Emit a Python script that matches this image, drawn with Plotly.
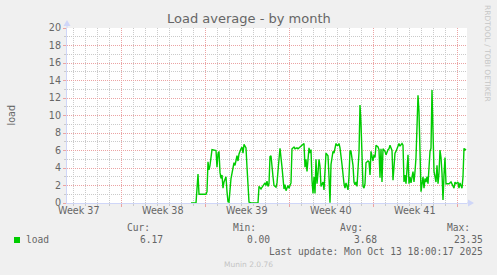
import plotly.graph_objects as go

# ---------------- data ----------------
times = [
    "2025-09-20 20:00", "2025-09-21 06:00", "2025-09-21 10:00", "2025-09-21 12:00",
    "2025-09-22 02:00", "2025-09-22 04:00", "2025-09-22 06:00", "2025-09-22 08:00",
    "2025-09-22 10:00", "2025-09-22 14:00", "2025-09-22 22:00",
    "2025-09-23 00:00", "2025-09-23 02:00", "2025-09-23 04:00", "2025-09-23 06:00",
    "2025-09-23 08:00", "2025-09-23 10:00", "2025-09-23 12:00", "2025-09-23 14:00",
    "2025-09-23 18:00", "2025-09-23 20:00", "2025-09-23 22:00",
    "2025-09-24 00:00", "2025-09-24 02:00", "2025-09-24 04:00", "2025-09-24 08:00",
    "2025-09-24 10:00", "2025-09-24 12:00", "2025-09-24 14:00", "2025-09-24 16:00",
    "2025-09-24 18:00", "2025-09-24 20:00",
    "2025-09-25 00:00", "2025-09-25 02:00", "2025-09-25 04:00", "2025-09-25 06:00",
    "2025-09-25 08:00", "2025-09-25 10:00", "2025-09-25 12:00", "2025-09-25 14:00",
    "2025-09-25 16:00", "2025-09-25 20:00",
    "2025-09-26 00:00", "2025-09-26 10:00", "2025-09-26 12:00", "2025-09-26 16:00",
    "2025-09-26 18:00", "2025-09-26 20:00",
    "2025-09-27 00:00", "2025-09-27 02:00", "2025-09-27 04:00", "2025-09-27 06:00",
    "2025-09-27 08:00", "2025-09-27 10:00", "2025-09-27 12:00", "2025-09-27 16:00",
    "2025-09-27 18:00", "2025-09-27 22:00",
    "2025-09-28 00:00", "2025-09-28 04:00", "2025-09-28 06:00", "2025-09-28 10:00",
    "2025-09-28 12:00", "2025-09-28 14:00", "2025-09-28 16:00", "2025-09-28 18:00",
    "2025-09-28 22:00",
    "2025-09-29 00:00", "2025-09-29 02:00", "2025-09-29 04:00", "2025-09-29 06:00",
    "2025-09-29 10:00", "2025-09-29 12:00", "2025-09-29 16:00", "2025-09-29 18:00",
    "2025-09-29 20:00",
    "2025-09-30 00:00", "2025-09-30 04:00", "2025-09-30 06:00", "2025-09-30 08:00",
    "2025-09-30 10:00", "2025-09-30 12:00", "2025-09-30 14:00", "2025-09-30 16:00",
    "2025-09-30 18:00", "2025-09-30 20:00", "2025-09-30 22:00",
    "2025-10-01 00:00", "2025-10-01 02:00", "2025-10-01 04:00", "2025-10-01 06:00",
    "2025-10-01 08:00", "2025-10-01 10:00", "2025-10-01 12:00", "2025-10-01 14:00",
    "2025-10-01 16:00", "2025-10-01 20:00", "2025-10-01 22:00",
    "2025-10-02 02:00", "2025-10-02 04:00", "2025-10-02 06:00", "2025-10-02 08:00",
    "2025-10-02 10:00", "2025-10-02 12:00", "2025-10-02 16:00", "2025-10-02 18:00",
    "2025-10-02 20:00", "2025-10-02 22:00",
    "2025-10-03 00:00", "2025-10-03 02:00", "2025-10-03 04:00", "2025-10-03 06:00",
    "2025-10-03 10:00", "2025-10-03 12:00", "2025-10-03 14:00", "2025-10-03 16:00",
    "2025-10-03 18:00", "2025-10-03 22:00",
    "2025-10-04 00:00", "2025-10-04 02:00", "2025-10-04 04:00", "2025-10-04 08:00",
    "2025-10-04 10:00", "2025-10-04 12:00", "2025-10-04 14:00", "2025-10-04 16:00",
    "2025-10-04 18:00", "2025-10-04 20:00", "2025-10-04 22:00",
    "2025-10-05 00:00", "2025-10-05 04:00", "2025-10-05 06:00", "2025-10-05 08:00",
    "2025-10-05 10:00", "2025-10-05 14:00", "2025-10-05 16:00", "2025-10-05 18:00",
    "2025-10-05 20:00",
    "2025-10-06 00:00", "2025-10-06 02:00", "2025-10-06 04:00", "2025-10-06 06:00",
    "2025-10-06 10:00", "2025-10-06 12:00", "2025-10-06 14:00", "2025-10-06 16:00",
    "2025-10-06 18:00", "2025-10-06 20:00",
    "2025-10-07 00:00", "2025-10-07 02:00", "2025-10-07 06:00", "2025-10-07 08:00",
    "2025-10-07 10:00", "2025-10-07 14:00", "2025-10-07 16:00", "2025-10-07 20:00",
    "2025-10-07 22:00",
    "2025-10-08 02:00", "2025-10-08 04:00", "2025-10-08 06:00", "2025-10-08 10:00",
    "2025-10-08 12:00", "2025-10-08 14:00", "2025-10-08 16:00", "2025-10-08 18:00",
    "2025-10-08 22:00",
    "2025-10-09 00:00", "2025-10-09 02:00", "2025-10-09 04:00", "2025-10-09 08:00",
    "2025-10-09 10:00", "2025-10-09 12:00", "2025-10-09 14:00", "2025-10-09 16:00",
    "2025-10-09 18:00", "2025-10-09 20:00", "2025-10-09 22:00",
    "2025-10-10 00:00", "2025-10-10 04:00", "2025-10-10 06:00", "2025-10-10 08:00",
    "2025-10-10 10:00", "2025-10-10 12:00", "2025-10-10 14:00", "2025-10-10 18:00",
    "2025-10-10 20:00", "2025-10-10 22:00",
    "2025-10-11 00:00", "2025-10-11 02:00", "2025-10-11 06:00", "2025-10-11 08:00",
    "2025-10-11 10:00", "2025-10-11 12:00", "2025-10-11 14:00", "2025-10-11 16:00",
    "2025-10-11 18:00", "2025-10-11 20:00", "2025-10-11 22:00",
    "2025-10-12 00:00", "2025-10-12 02:00", "2025-10-12 06:00", "2025-10-12 08:00",
    "2025-10-12 12:00", "2025-10-12 14:00", "2025-10-12 18:00", "2025-10-12 20:00",
    "2025-10-12 22:00",
    "2025-10-13 02:00", "2025-10-13 04:00", "2025-10-13 06:00", "2025-10-13 10:00",
    "2025-10-13 12:00", "2025-10-13 14:00", "2025-10-13 16:00", "2025-10-13 18:00",
]

load = [
    0.0, 0.0, 3.3, 1.0,
    1.0, 1.3, 4.7, 3.8, 4.3, 6.1, 6.0,
    4.1, 5.6, 5.9, 3.5, 2.8, 3.2, 1.7, 2.4, 3.0, 1.3, 0.15,
    0.1, 1.4, 2.8, 4.0, 4.6, 4.3, 5.0, 5.4, 4.8, 5.6,
    6.2, 6.4, 5.7, 6.7, 6.5, 6.3, 4.1, 1.4, 0.1, 0.0,
    0.0, 0.0, 1.9, 1.6, 1.8, 2.0,
    2.3, 2.0, 2.5, 1.9, 2.2, 5.3, 5.4, 3.0, 2.0, 1.8,
    2.3, 5.0, 6.25, 4.1, 2.2, 1.6, 2.1, 1.4, 2.0,
    1.7, 2.0, 2.3, 6.2, 6.4, 6.2, 6.3, 6.2, 6.3,
    6.4, 6.7, 6.8, 4.1, 5.0, 3.6, 5.0, 6.3, 5.7, 6.1, 2.6,
    1.1, 3.0, 1.1, 5.0, 2.2, 3.4, 5.0, 4.2, 1.9, 2.4, 1.5,
    5.7, 5.6, 5.4, 3.0, 0.04, 4.4, 5.9, 5.7, 6.1, 6.8,
    6.6, 6.6, 6.8, 6.3, 4.4, 3.0, 2.2, 1.7, 2.3, 1.5,
    3.0, 6.0, 5.9, 4.3, 2.4, 2.1, 2.4, 1.9, 4.8, 5.8, 11.2,
    9.1, 1.9, 1.7, 2.2, 4.6, 4.8, 4.7, 3.2, 5.9,
    4.8, 5.5, 5.2, 6.6, 6.4, 6.1, 2.9, 6.2, 2.4, 6.2,
    5.9, 5.5, 6.1, 6.2, 6.6, 6.0, 2.6, 5.7, 5.9,
    6.6, 6.8, 6.5, 6.8, 6.6, 2.4, 3.2, 2.2, 5.5,
    2.2, 3.0, 2.3, 3.6, 2.4, 3.6, 5.2, 8.7, 12.3, 10.4, 3.4,
    1.3, 3.0, 1.7, 2.8, 2.4, 3.0, 2.2, 5.9, 6.25, 12.9,
    7.8, 3.6, 2.4, 4.3, 2.2, 3.4, 6.06, 5.2, 3.4, 0.34, 3.2,
    5.2, 2.2, 2.2, 2.2, 2.4, 2.2, 1.7, 2.4, 2.2,
    2.4, 1.7, 2.3, 1.7, 3.0, 6.25, 6.06, 6.17,
]

x_range = ["2025-09-10 12:00", "2025-10-13 20:00"]
week_label_dates = ["2025-09-11 12:00", "2025-09-18 12:00", "2025-09-25 12:00",
                    "2025-10-02 12:00", "2025-10-09 12:00"]
week_labels = ["Week 37", "Week 38", "Week 39", "Week 40", "Week 41"]
y_ticks = list(range(0, 21, 2))

series_name = "load"
stat_names = ["Cur:", "Min:", "Avg:", "Max:"]
stat_values = ["6.17", "0.00", "3.68", "23.35"]
last_update = "Last update: Mon Oct 13 18:00:17 2025"
title_text = "Load average - by month"
y_title = "load"
watermark = "RRDTOOL / TOBI OETIKER"
footer = "Munin 2.0.76"

# ---------------- style ----------------
W, H = 497, 275
PL, PR, PT, PB = 67, 467, 28, 203
FONT = "#666666"
GREEN = "#00cc00"
AXIS = "#CFD6F8"
MGRID = "#eba3a3"
GRID = "#cacaca"
SANS = "DejaVu Sans"
MONO = "DejaVu Sans Mono"


def px(x):
    return (x - PL) / (PR - PL)


def py(y):
    return (PB - y) / (PB - PT)


fig = go.Figure()
fig.add_trace(go.Scatter(x=times, y=load, mode="lines",
                         line=dict(color=GREEN, width=1.4), name=series_name,
                         hoverinfo="skip"))

fig.update_layout(
    width=W, height=H,
    margin=dict(l=PL, r=W - PR, t=PT, b=H - PB, pad=0),
    paper_bgcolor="#f0f0f0", plot_bgcolor="#ffffff",
    showlegend=False,
    font=dict(family=SANS, size=9.6, color=FONT),
)

fig.update_xaxes(
    type="date", range=x_range,
    tick0="2025-09-08", dtick=7 * 86400000,
    showticklabels=False,
    showgrid=True, gridcolor=MGRID, griddash="1px,1px", gridwidth=1,
    ticks="outside", ticklen=3, tickcolor=MGRID,
    showline=True, linecolor=AXIS, linewidth=1,
    zeroline=False,
    minor=dict(tick0="2025-09-08", dtick=86400000, showgrid=True,
               gridcolor=GRID, griddash="1px,1px", gridwidth=1,
               ticks="outside", ticklen=2, tickcolor=GRID),
)

fig.update_yaxes(
    range=[0, 20], tickmode="array", tickvals=y_ticks,
    ticktext=[str(v) for v in y_ticks],
    showgrid=True, gridcolor=MGRID, griddash="1px,1px", gridwidth=1,
    ticks="outside", ticklen=3, tickcolor=MGRID,
    showline=True, linecolor=AXIS, linewidth=1,
    zeroline=False,
    tickfont=dict(family=SANS, size=9.6, color=FONT),
    minor=dict(dtick=1, showgrid=True, gridcolor=GRID, griddash="1px,1px",
               gridwidth=1, ticks="outside", ticklen=2, tickcolor=GRID),
)

ann = []
# week labels centred within each week
for d, t in zip(week_label_dates, week_labels):
    ann.append(dict(x=d, y=0, xref="x", yref="paper", text=t, showarrow=False,
                    xanchor="center", yanchor="top", yshift=-2,
                    font=dict(family=SANS, size=9.6, color=FONT),
                    borderpad=0, borderwidth=0))

# title
ann.append(dict(x=px(248.5), y=py(18.5), xref="paper", yref="paper", text=title_text,
                showarrow=False, xanchor="center", yanchor="middle",
                font=dict(family=SANS, size=13, color=FONT)))
# y title
ann.append(dict(x=px(10.5), y=py(115), xref="paper", yref="paper", text=y_title,
                showarrow=False, textangle=-90, xanchor="center", yanchor="middle",
                font=dict(family=SANS, size=9.6, color=FONT)))
# watermark
ann.append(dict(x=px(487.5), y=py(53.5), xref="paper", yref="paper", text=watermark,
                showarrow=False, textangle=90, xanchor="center", yanchor="middle",
                font=dict(family=SANS, size=7.5, color="#c6c6c6")))

mono = dict(family=MONO, size=9.6, color=FONT)
# legend label
ann.append(dict(x=px(26), y=py(239.7), xref="paper", yref="paper", text=series_name,
                showarrow=False, xanchor="left", yanchor="middle", font=mono,
                borderpad=0, borderwidth=0))
stat_head_left = [126.5, 232.5, 339.5, 446.5]
stat_val_right = [162.5, 269.5, 376.5, 483]
for name, xl in zip(stat_names, stat_head_left):
    ann.append(dict(x=px(xl), y=py(227.3), xref="paper", yref="paper", text=name,
                    showarrow=False, xanchor="left", yanchor="middle", font=mono,
                    borderpad=0, borderwidth=0))
for val, xr in zip(stat_values, stat_val_right):
    ann.append(dict(x=px(xr), y=py(239.7), xref="paper", yref="paper", text=val,
                    showarrow=False, xanchor="right", yanchor="middle", font=mono,
                    borderpad=0, borderwidth=0))
ann.append(dict(x=px(483), y=py(251.7), xref="paper", yref="paper", text=last_update,
                showarrow=False, xanchor="right", yanchor="middle", font=mono,
                borderpad=0, borderwidth=0))
ann.append(dict(x=px(248), y=py(264), xref="paper", yref="paper", text=footer,
                showarrow=False, xanchor="center", yanchor="middle",
                font=dict(family=SANS, size=7.5, color="#c4c4c4")))
fig.update_layout(annotations=ann)

shapes = [
    # legend colour box
    dict(type="rect", xref="paper", yref="paper",
         x0=px(14), x1=px(20), y0=py(243), y1=py(237),
         fillcolor=GREEN, line=dict(width=0)),
    # y axis arrow
    dict(type="path", xref="paper", yref="paper", xsizemode="pixel", ysizemode="pixel",
         xanchor=0, yanchor=1, path="M-3.5,2 L3.5,2 L0,8 Z",
         fillcolor=AXIS, line=dict(width=0)),
    dict(type="path", xref="paper", yref="paper", xsizemode="pixel", ysizemode="pixel",
         xanchor=0, yanchor=1, path="M0,0 L0,3", line=dict(color=AXIS, width=1)),
    # x axis arrow
    dict(type="path", xref="paper", yref="paper", xsizemode="pixel", ysizemode="pixel",
         xanchor=1, yanchor=0, path="M1,-3.5 L1,3.5 L7,0 Z",
         fillcolor=AXIS, line=dict(width=0)),
    dict(type="path", xref="paper", yref="paper", xsizemode="pixel", ysizemode="pixel",
         xanchor=1, yanchor=0, path="M0,0 L2,0", line=dict(color=AXIS, width=1)),
]
fig.update_layout(shapes=shapes)

fig.write_html("out.html")
